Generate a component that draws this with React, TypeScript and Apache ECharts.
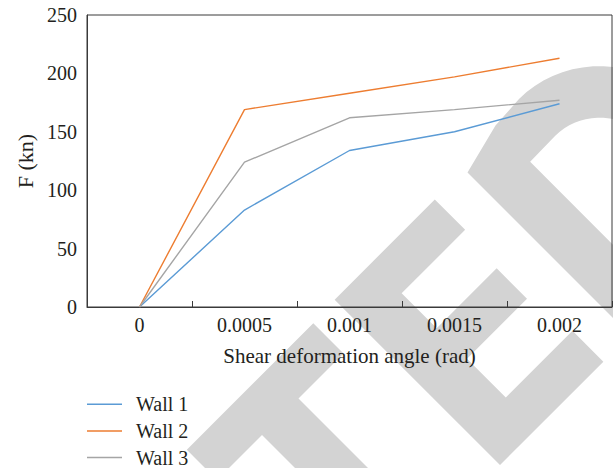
import React, { useEffect, useRef } from "react";
import * as echarts from "echarts";

const categories = ["0", "0.0005", "0.001", "0.0015", "0.002"];
const seriesNames = ["Wall 1", "Wall 2", "Wall 3"];
const wall1 = [0, 83, 134, 150, 174];
const wall2 = [0, 169, 183, 197, 213];
const wall3 = [0, 124, 162, 169, 177];
const colors = ["#5B9BD5", "#ED7D31", "#A5A5A5"];
const yMin = 0;
const yMax = 250;
const yInterval = 50;
const xTitle = "Shear deformation angle (rad)";
const yTitle = "F (kn)";

// decorative watermark letters, in rotated (u, v) coordinates
const letterT: [number, number][] = [
  [-263, 636.6], [-10, 636.6], [-10, 697], [-100, 697], [-100, 1000],
  [-173, 1000], [-173, 697], [-263, 697],
];
const letterE: [number, number][] = [
  [35, 634.3], [235.3, 634.3], [235.3, 695], [108.3, 695], [108.3, 765],
  [228.3, 765], [228.3, 825.7], [108.3, 825.7], [108.3, 903.3], [241.7, 903.3],
  [241.7, 965], [35, 965],
];

function toXY(p: [number, number]): number[] {
  return [(p[0] + p[1]) / 2, (p[1] - p[0]) / 2];
}

function letterD(): number[][] {
  const cu = 420, cv = 795;
  const pts: [number, number][] = [];
  pts.push([295, 975], [295, 640], [370, 621]);
  for (let i = 0; i <= 36; i++) {
    const t = -Math.PI / 2 + (Math.PI * i) / 36;
    pts.push([cu + 166 * Math.cos(t), cv + 177 * Math.sin(t)]);
  }
  pts.push([295, 975]);
  pts.push([368.3, 899]);
  for (let i = 0; i <= 36; i++) {
    const t = Math.PI / 2 - (Math.PI * i) / 36;
    pts.push([cu + 93 * Math.cos(t), cv + 104 * Math.sin(t)]);
  }
  pts.push([368.3, 692], [368.3, 899], [295, 975]);
  return pts.map(toXY);
}

const FONT = "Liberation Serif";
const TEXT = "#231F20";

export default function App() {
  const ref = useRef<HTMLDivElement>(null);
  useEffect(() => {
    if (!ref.current) return;
    const chart = echarts.init(ref.current, null, { renderer: "svg" });
    const wm = "#D3D3D3";
    const data = [wall1, wall2, wall3];
    chart.setOption({
      animation: false,
      backgroundColor: "#ffffff",
      textStyle: { fontFamily: FONT },
      graphic: [
        { type: "polygon", z: -10, silent: true, shape: { points: letterT.map(toXY) }, style: { fill: wm } },
        { type: "polygon", z: -10, silent: true, shape: { points: letterE.map(toXY) }, style: { fill: wm } },
        { type: "polygon", z: -10, silent: true, shape: { points: letterD() }, style: { fill: wm } },
      ],
      grid: {
        left: 87,
        right: 1,
        top: 15,
        bottom: 161,
        show: true,
        borderColor: "#3a3a3a",
        borderWidth: 1,
        backgroundColor: "transparent",
      },
      legend: {
        orient: "vertical",
        left: 87,
        top: 394.3,
        height: 200,
        padding: 0,
        icon: "rect",
        itemWidth: 35,
        itemHeight: 1.5,
        itemGap: 6.6,
        data: seriesNames,
        textStyle: { fontFamily: FONT, fontSize: 20, color: TEXT, padding: [0, 0, 0, 9], lineHeight: 20 },
      },
      xAxis: {
        type: "category",
        data: categories,
        boundaryGap: true,
        name: xTitle,
        nameLocation: "middle",
        nameGap: 38,
        nameTextStyle: { fontFamily: FONT, fontSize: 21, color: TEXT },
        axisLine: { lineStyle: { color: "#3a3a3a", width: 1 } },
        axisTick: { show: true, inside: true, length: 6, lineStyle: { color: "#3a3a3a" } },
        axisLabel: { fontFamily: FONT, fontSize: 20, color: TEXT, margin: 8 },
        splitLine: { show: false },
      },
      yAxis: {
        type: "value",
        min: yMin,
        max: yMax,
        interval: yInterval,
        name: yTitle,
        nameLocation: "middle",
        nameGap: 50,
        nameTextStyle: { fontFamily: FONT, fontSize: 22, color: TEXT },
        axisLine: { show: true, lineStyle: { color: "#3a3a3a", width: 1 } },
        axisTick: { show: false },
        axisLabel: { fontFamily: FONT, fontSize: 20, color: TEXT, margin: 10 },
        splitLine: { show: false },
      },
      series: seriesNames.map((name, i) => ({
        name,
        type: "line",
        data: data[i],
        symbol: "none",
        showSymbol: false,
        color: colors[i],
        lineStyle: { color: colors[i], width: 1.4 },
        z: 5,
      })),
    });
    return () => chart.dispose();
  }, []);
  return <div ref={ref} style={{ width: 613, height: 468, position: "absolute", left: 0, top: 0 }} />;
}
